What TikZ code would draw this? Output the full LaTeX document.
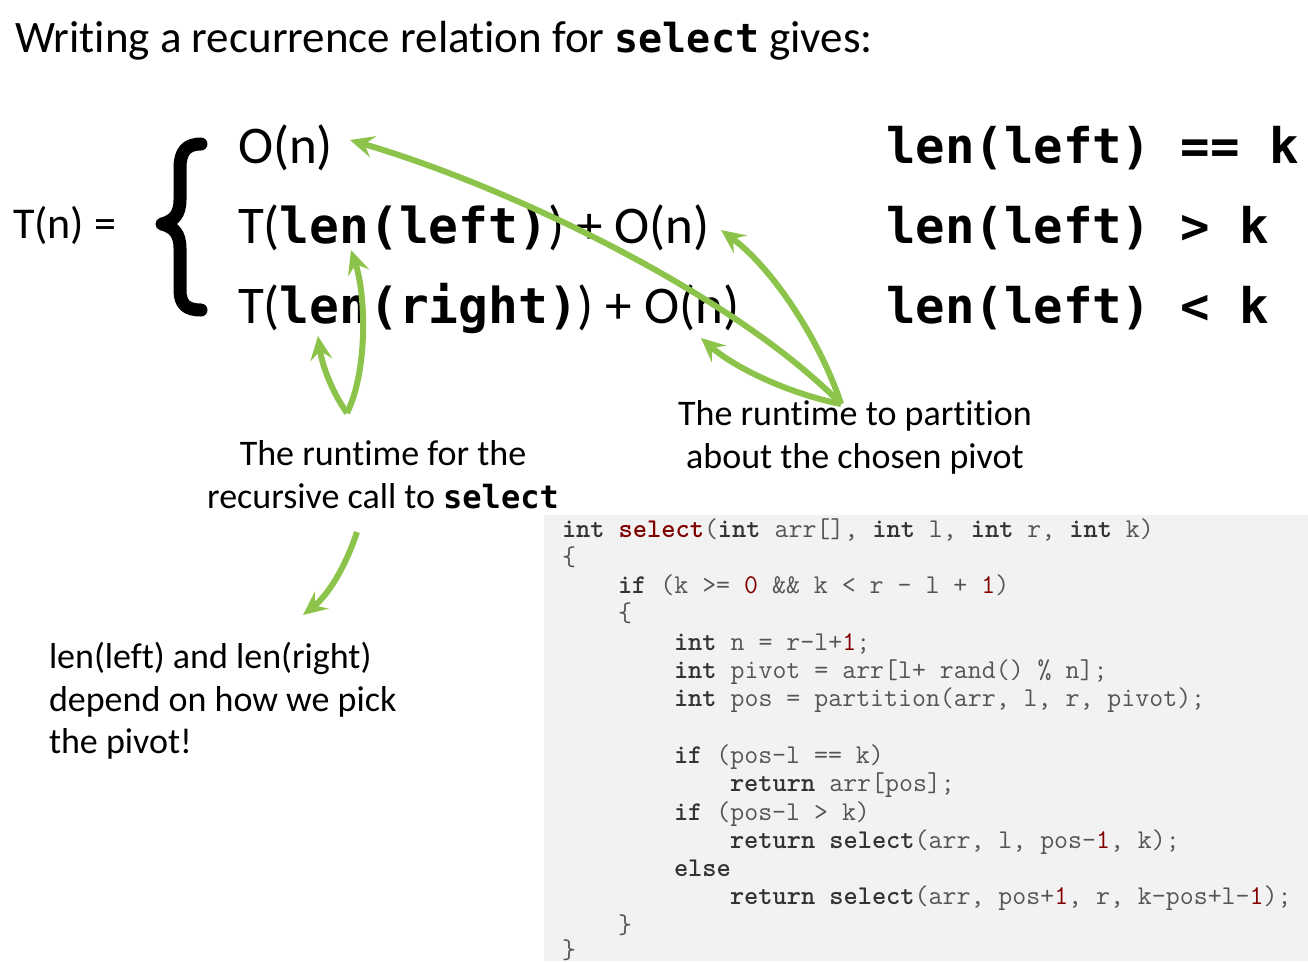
\documentclass[tikz,border=0pt]{standalone}
\usepackage{fontspec}
\setmainfont{Carlito}[Ligatures=NoCommon]
\newfontfamily\cons{DejaVu Sans Mono}
\usetikzlibrary{arrows.meta}

\definecolor{pgreen}{RGB}{140,195,74}
\definecolor{codebg}{RGB}{242,242,242}
\definecolor{codetext}{RGB}{85,85,85}
\definecolor{kwcol}{RGB}{51,51,51}
\definecolor{redcol}{RGB}{128,0,0}

% bold monospace words inside the prose
\newcommand\bm[2]{{\cons\bfseries\fontsize{#1}{#1}\selectfont #2}}
% code highlighting
\newcommand\kw[1]{{\bfseries\color{kwcol}#1}}
\newcommand\nm[1]{{\color{redcol}#1}}
\newcommand\fn[1]{{\bfseries\color{redcol}#1}}

\begin{document}
\frenchspacing
\begin{tikzpicture}[x=1pt,y=-1pt,
  txt/.style={anchor=base west,inner sep=0pt,outer sep=0pt},
  ctxt/.style={anchor=base,inner sep=0pt,outer sep=0pt},
  code/.style={anchor=base west,inner sep=0pt,outer sep=0pt,text=codetext,
    font=\ttfamily\fontsize{27.1}{30}\selectfont},
  note/.style={ctxt,font=\fontsize{36}{42}\selectfont},
  eq/.style={txt,font=\fontsize{53}{60}\selectfont},
  garrow/.style={draw=pgreen,line width=6pt,
    -{Stealth[length=24pt,width=22pt,inset=9pt]}},
]
\path[use as bounding box] (0,0) rectangle (1308,961);

% title
\node[txt,font=\fontsize{45}{52}\selectfont] (title) at (15,52)
  {Writing a recurrence relation for \bm{40}{select} gives:};

% recurrence
\node[txt,font=\fontsize{44}{52}\selectfont] (lhs) at (13,238) {T(n) =};
\draw[line width=13pt,line join=round,line cap=round] (201,144)
  .. controls (186,144) and (180,152) .. (180,168) -- (180,200)
  .. controls (180,214) and (174,221) .. (162,224)
  .. controls (174,227) and (180,234) .. (180,248) -- (180,290)
  .. controls (180,304) and (186,310) .. (201,310);

\node[eq] (r1) at (238,163) {O(n)};
\node[eq] (r2) at (238,243) {T(\bm{49.5}{len(left)}) + O(n)};
\node[eq] (r3) at (238,323) {T(\bm{49.5}{len(right)}) + O(n)};

\node[txt] (c1) at (886,163) {\bm{49}{len(left) == k}};
\node[txt] (c2) at (886,243) {\bm{49}{len(left) > k}};
\node[txt] (c3) at (886,323) {\bm{49}{len(left) < k}};

% annotations
\node[note] (partA) at (855,425) {The runtime to partition};
\node[note] (partB) at (855,468) {about the chosen pivot};
\node[note] (recA) at (383,465) {The runtime for the};
\node[note] (recB) at (383,508) {recursive call to \bm{32}{select}};

\node[txt,font=\fontsize{36}{42}\selectfont] (depA) at (49,668) {len(left) and len(right)};
\node[txt,font=\fontsize{36}{42}\selectfont] (depB) at (49,711) {depend on how we pick};
\node[txt,font=\fontsize{36}{42}\selectfont] (depC) at (49,753) {the pivot!};

% arrow ends
\coordinate (pApex) at (841,404);
\coordinate (tO1) at (350,140);
\coordinate (tO2) at (721,230);
\coordinate (tO3) at (701,338);
\coordinate (rApex) at (347,413);
\coordinate (tLeft) at (351,250);
\coordinate (tRight) at (318,336);
\coordinate (sTail) at (357,532);
\coordinate (sTip) at (303,615);

\draw[garrow] (pApex) .. controls (740,300) and (520,190) .. (tO1);
\draw[garrow] (pApex) .. controls (822,345) and (775,270) .. (tO2);
\draw[garrow] (pApex) .. controls (790,394) and (735,368) .. (tO3);
\draw[garrow] (rApex) .. controls (368,370) and (366,295) .. (tLeft);
\draw[garrow] (rApex) .. controls (332,392) and (322,365) .. (tRight);
\draw[garrow] (sTail) .. controls (345,568) and (328,595) .. (sTip);

% code listing
\fill[codebg] (544,515) rectangle (1308,961);
\node[code] (l0) at (562,537.0) {\kw{int} \fn{select}(\kw{int} arr[], \kw{int} l, \kw{int} r, \kw{int} k)};
\node[code] (l1) at (562,565.3) {\{};
\node[code] (l2) at (618,593.6) {\kw{if} (k >= \nm{0} \&\& k < r - l + \nm{1})};
\node[code] (l3) at (618,621.9) {\{};
\node[code] (l4) at (674,650.2) {\kw{int} n = r-l+\nm{1};};
\node[code] (l5) at (674,678.5) {\kw{int} pivot = arr[l+ rand() \% n];};
\node[code] (l6) at (674,706.8) {\kw{int} pos = partition(arr, l, r, pivot);};
\node[code] (l8) at (674,763.4) {\kw{if} (pos-l == k)};
\node[code] (l9) at (730,791.7) {\kw{return} arr[pos];};
\node[code] (l10) at (674,820.0) {\kw{if} (pos-l > k)};
\node[code] (l11) at (730,848.3) {\kw{return} \kw{select}(arr, l, pos-\nm{1}, k);};
\node[code] (l12) at (674,876.6) {\kw{else}};
\node[code] (l13) at (730,904.9) {\kw{return} \kw{select}(arr, pos+\nm{1}, r, k-pos+l-\nm{1});};
\node[code] (l14) at (618,933.2) {\}};
\node[code] (l15) at (562,958) {\}};
\end{tikzpicture}
\end{document}
